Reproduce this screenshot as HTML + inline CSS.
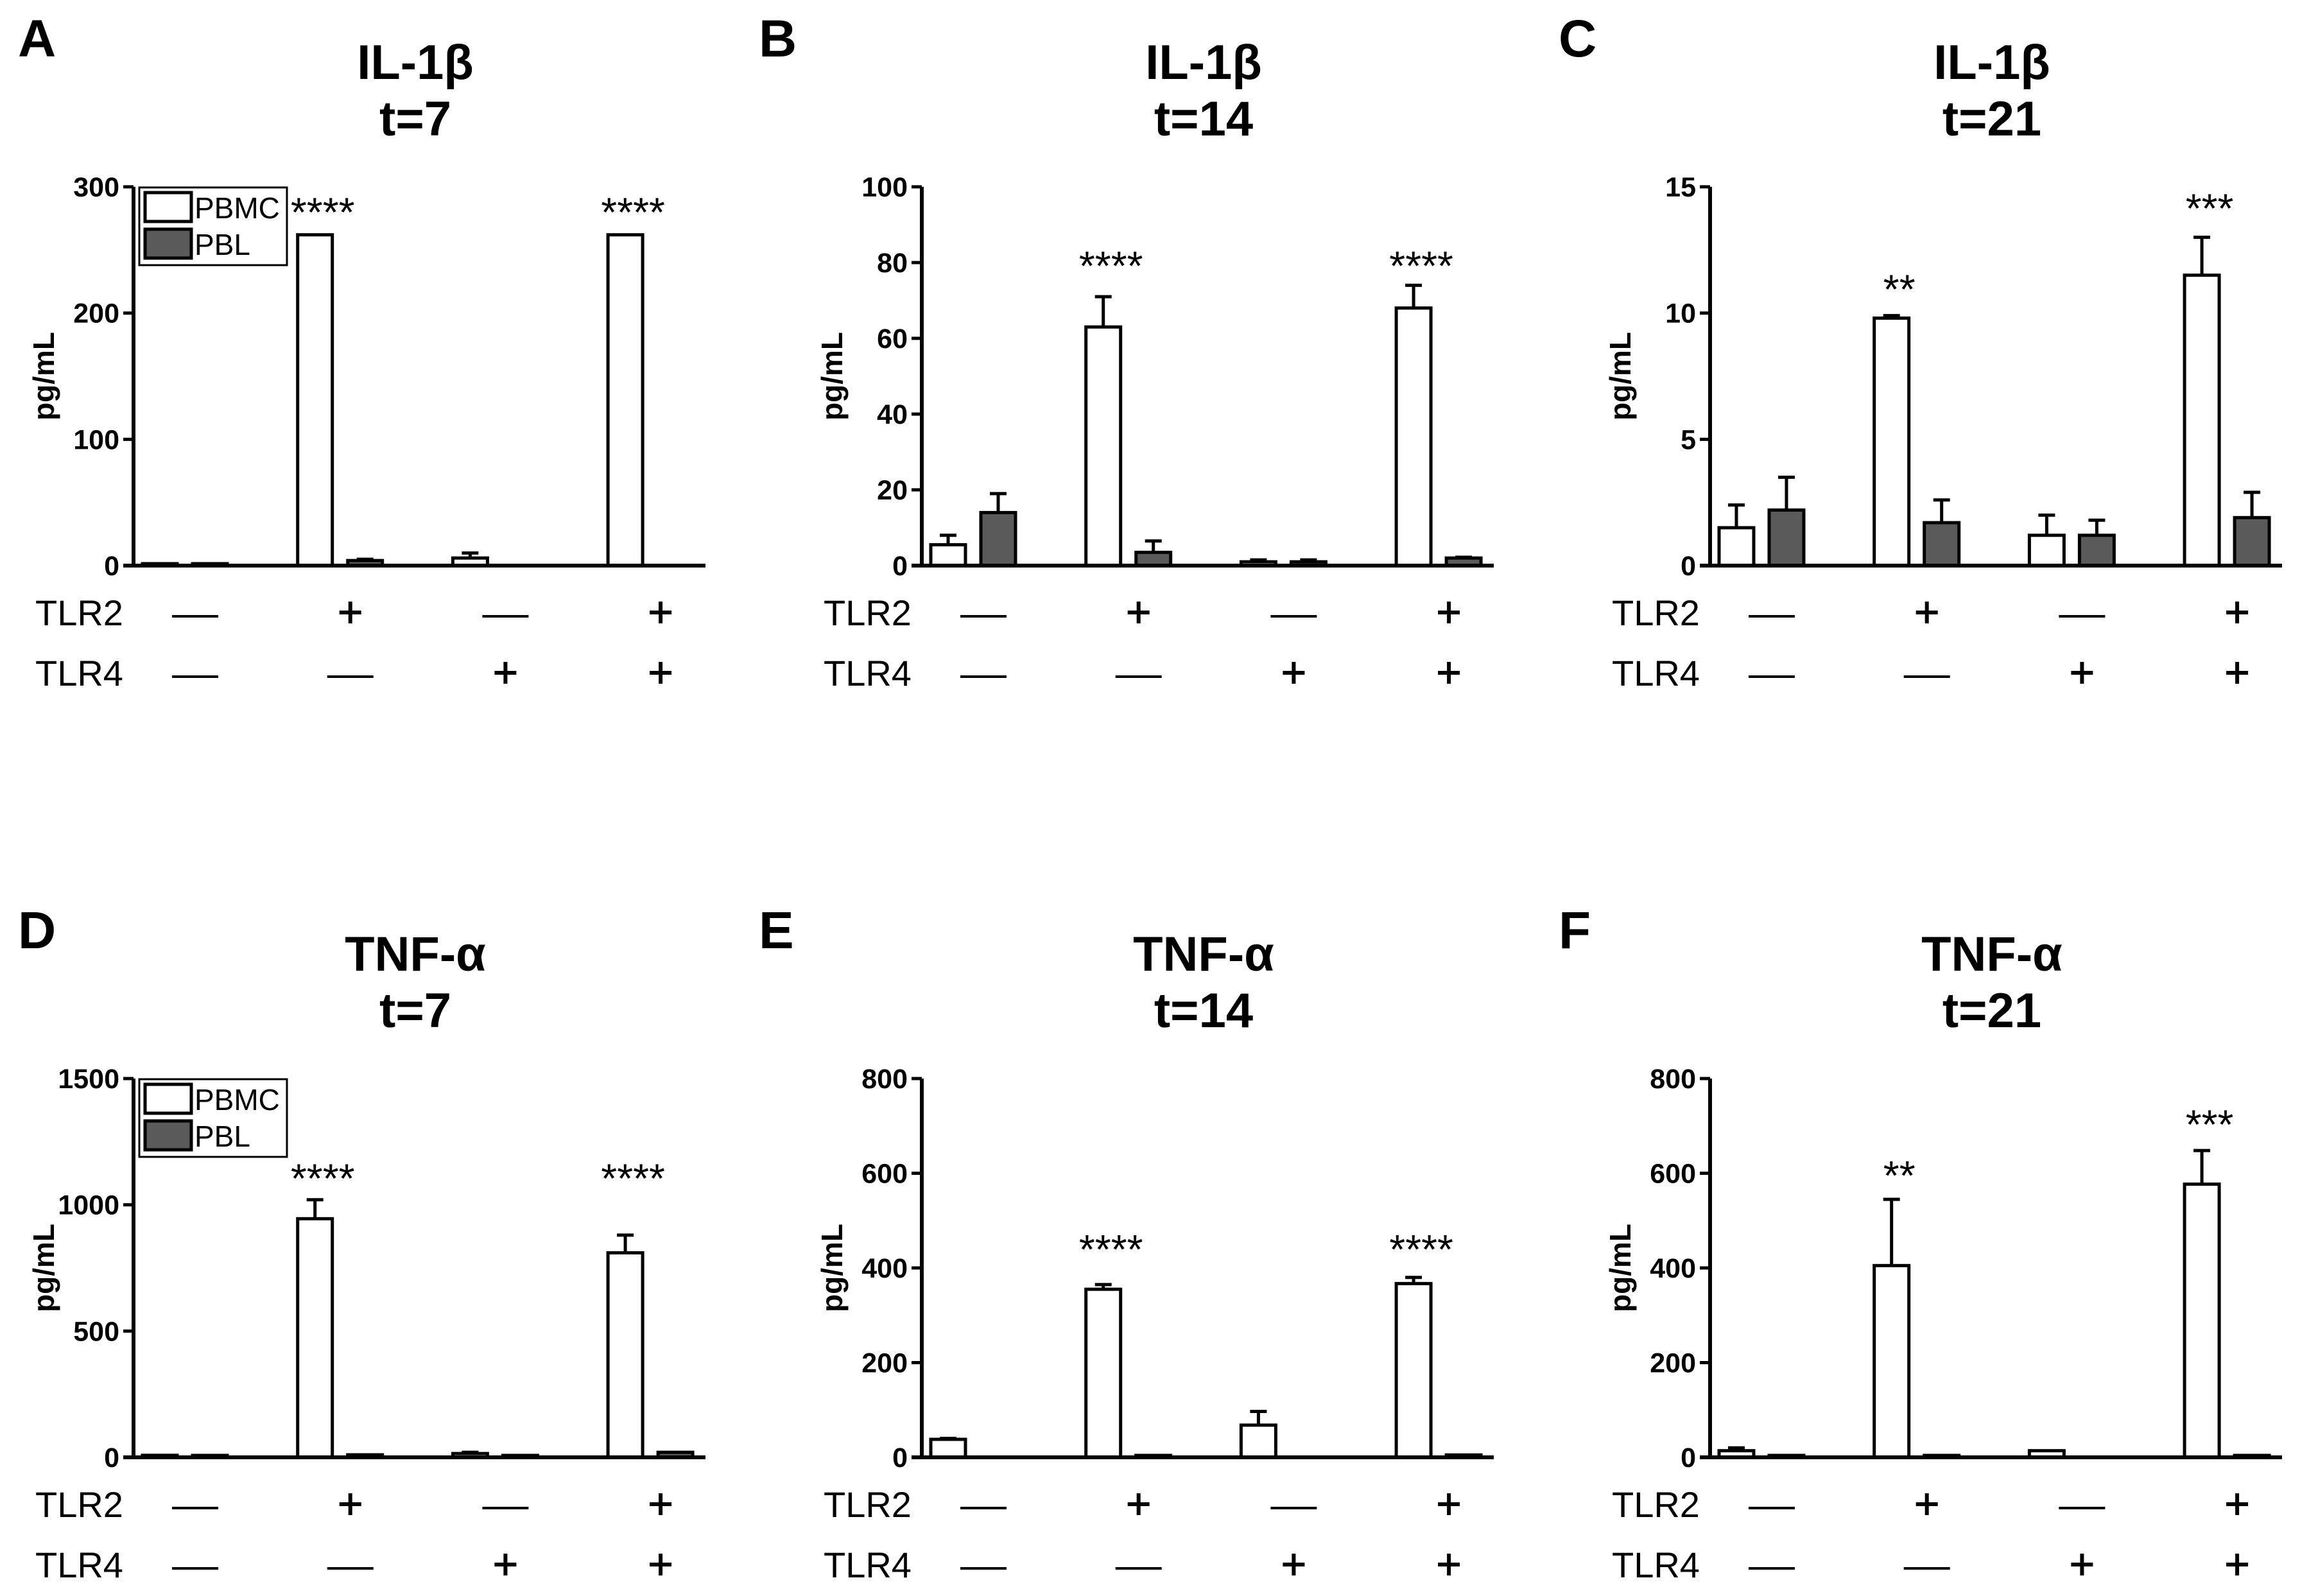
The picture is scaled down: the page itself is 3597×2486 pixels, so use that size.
<!DOCTYPE html>
<html><head><meta charset="utf-8"><title>IL-1β and TNF-α</title>
<style>
html,body{margin:0;padding:0;background:#fff;}
svg{display:block;font-family:"Liberation Sans",Arial,sans-serif;}
</style></head>
<body>
<svg id="fig" width="3597" height="2486" viewBox="0 0 3597 2486" xmlns="http://www.w3.org/2000/svg"></svg>
<script>
// ---- data ----
const panelLetters = ["A","B","C","D","E","F"];
const panelCytokines = ["IL-1β","IL-1β","IL-1β","TNF-α","TNF-α","TNF-α"];
const panelTimes = ["t=7","t=14","t=21","t=7","t=14","t=21"];
const yMaxes = [300,100,15,1500,800,800];
const yTicksA = [0,100,200,300];
const yTicksB = [0,20,40,60,80,100];
const yTicksC = [0,5,10,15];
const yTicksD = [0,500,1000,1500];
const yTicksE = [0,200,400,600,800];
const yTicksF = [0,200,400,600,800];
const groups = ["g1","g2","g3","g4"];
const tlr2Labels = ["—","+","—","+"];
const tlr4Labels = ["—","—","+","+"];
const pbmcA = [1,262,6,262];      const pbmcErrA = [1,262,10,262];
const pblA  = [1,4,0,0];          const pblErrA  = [1,5,0,0];
const pbmcB = [5.5,63,1,68];      const pbmcErrB = [8,71,1.5,74];
const pblB  = [14,3.5,1,2];       const pblErrB  = [19,6.5,1.5,2.2];
const pbmcC = [1.5,9.8,1.2,11.5]; const pbmcErrC = [2.4,9.9,2.0,13.0];
const pblC  = [2.2,1.7,1.2,1.9];  const pblErrC  = [3.5,2.6,1.8,2.9];
const pbmcD = [8,945,15,810];     const pbmcErrD = [8,1020,20,880];
const pblD  = [3,10,2,20];        const pblErrD  = [3,10,2,20];
const pbmcE = [38,355,68,367];    const pbmcErrE = [40,365,97,380];
const pblE  = [0,3,0,5];          const pblErrE  = [0,3,0,5];
const pbmcF = [14,405,14,577];    const pbmcErrF = [20,545,14,648];
const pblF  = [2,2,0,2];          const pblErrF  = [2,2,0,2];
const starTextA = ["","****","","****"]; const starLevelA = [0,281,0,281];
const starTextB = ["","****","","****"]; const starLevelB = [0,79.5,0,79.5];
const starTextC = ["","**","","***"];    const starLevelC = [0,11.0,0,14.2];
const starTextD = ["","****","","****"]; const starLevelD = [0,1110,0,1110];
const starTextE = ["","****","","****"]; const starLevelE = [0,442,0,442];
const starTextF = ["","**","","***"];    const starLevelF = [0,598,0,706];

const ticksAll=[yTicksA,yTicksB,yTicksC,yTicksD,yTicksE,yTicksF];
const pbmcAll=[pbmcA,pbmcB,pbmcC,pbmcD,pbmcE,pbmcF];
const pbmcErrAll=[pbmcErrA,pbmcErrB,pbmcErrC,pbmcErrD,pbmcErrE,pbmcErrF];
const pblAll=[pblA,pblB,pblC,pblD,pblE,pblF];
const pblErrAll=[pblErrA,pblErrB,pblErrC,pblErrD,pblErrE,pblErrF];
const starTextAll=[starTextA,starTextB,starTextC,starTextD,starTextE,starTextF];
const starLevelAll=[starLevelA,starLevelB,starLevelC,starLevelD,starLevelE,starLevelF];

const NS="http://www.w3.org/2000/svg";
const svg=document.getElementById('fig');
function mk(tag,attrs,parent,text){
  const e=document.createElementNS(NS,tag);
  for(const k in attrs) e.setAttribute(k,attrs[k]);
  if(text!==undefined) e.textContent=text;
  (parent||svg).appendChild(e);
  return e;
}
const letterX=[28,1182,2428];

for(let p=0;p<6;p++){
  const col=p%3,row=Math.floor(p/3);
  const ox=col*1228, oy=row*1389;
  const axX=208+ox, axEnd=1099+ox, base=881+oy, top=291+oy;
  const yMax=yMaxes[p];
  const y=v=>base-(v/yMax)*(base-top);
  const xPBMC=i=>249+ox+i*241.7;
  const xPBL=i=>327+ox+i*241.7;
  const xGroup=i=>296+ox+i*241.7;

  const g=mk('g',{});
  
  

  const lt=mk('text',{x:letterX[col],y:88+oy,'font-size':82,'font-weight':'bold'},g,panelLetters[p]);
  
  
  const t1=mk('text',{x:647+ox,y:123+oy,'font-size':76,'font-weight':'bold','text-anchor':'middle'},g,panelCytokines[p]);
  
  
  const t2=mk('text',{x:647+ox,y:211+oy,'font-size':76,'font-weight':'bold','text-anchor':'middle'},g,panelTimes[p]);
  
  

  const yl=mk('text',{x:0,y:0,'font-size':46,'font-weight':'bold','text-anchor':'middle',transform:`translate(${84+ox},${(top+base)/2}) rotate(-90)`},g,'pg/mL');
  
  

  for(let i=0;i<4;i++){
    [[pbmcAll[p][i],pbmcErrAll[p][i],xPBMC(i),'#fff','pbmc'],[pblAll[p][i],pblErrAll[p][i],xPBL(i),'#5a5a5a','pbl']].forEach(([v,e,cx,fill,nm])=>{
      if(v<=0) return;
      const yt=y(v);
      const h=Math.max(base-yt,3);
      if(e>v){
        const el=mk('path',{d:`M${cx} ${yt} V${y(e)} M${cx-13} ${y(e)} H${cx+13}`,stroke:'#000','stroke-width':5,fill:'none'},g);
        
        
      }
      const r=mk('rect',{x:cx-27,y:base-h,width:54,height:h,fill:fill,stroke:'#000','stroke-width':5},g);
      
      
    });
    if(starTextAll[p][i]){
      const s=mk('text',{x:xPBMC(i)+12,y:y(starLevelAll[p][i])+24,'font-size':64,'text-anchor':'middle'},g,starTextAll[p][i]);
      
      
    }
    [[tlr2Labels[i],954+oy],[tlr4Labels[i],1048+oy]].forEach(([lab,cy])=>{
      const cx=xGroup(i)+8;
      if(lab==='+'){
        const pl=mk('path',{d:`M${cx-17} ${cy} H${cx+17} M${cx} ${cy-17} V${cy+17}`,stroke:'#000','stroke-width':6,fill:'none'},g);
        
        
      } else {
        const mn=mk('path',{d:`M${cx-36} ${cy+6} H${cx+36}`,stroke:'#000','stroke-width':4,fill:'none'},g);
        
        
      }
    });
  }

  const ya=mk('path',{d:`M${axX} ${top} V${base}`,stroke:'#000','stroke-width':6,fill:'none'},g);
  
  
  const xa=mk('path',{d:`M${axX-16} ${base} H${axEnd}`,stroke:'#000','stroke-width':6,fill:'none'},g);
  
  
  ticksAll[p].forEach(tv=>{
    const ty=y(tv);
    const tk=mk('path',{d:`M${axX-16} ${ty} H${axX}`,stroke:'#000','stroke-width':5},g);
    
    
    const tl=mk('text',{x:axX-22,y:ty+15,'font-size':43,'font-weight':'bold','text-anchor':'end'},g,String(tv));
    
    
  });

  const r2=mk('text',{x:55+ox,y:974+oy,'font-size':56},g,'TLR2');
  
  
  const r4=mk('text',{x:55+ox,y:1068+oy,'font-size':56},g,'TLR4');
  
  

  if(col===0){
    const lg=mk('g',{},g);
    
    
    mk('rect',{x:217+ox,y:292+oy,width:230,height:121,fill:'#fff',stroke:'#000','stroke-width':3},lg);
    const s1=mk('rect',{x:226+ox,y:300+oy,width:72,height:45,fill:'#fff',stroke:'#000','stroke-width':5},lg);
    
    
    const s2=mk('rect',{x:226+ox,y:357+oy,width:72,height:45,fill:'#5a5a5a',stroke:'#000','stroke-width':5},lg);
    
    
    const e1=mk('text',{x:303+ox,y:340+oy,'font-size':46},lg,'PBMC');
    
    
    const e2=mk('text',{x:303+ox,y:397+oy,'font-size':46},lg,'PBL');
    
    
  }
}
</script>
</body></html>
